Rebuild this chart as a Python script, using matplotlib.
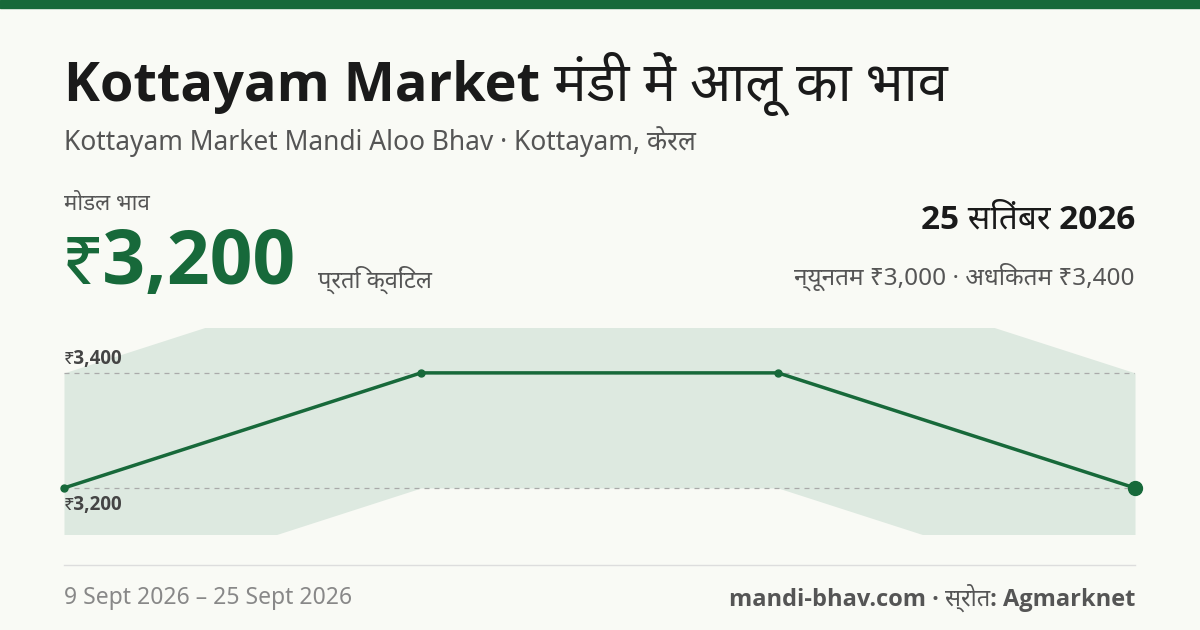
import matplotlib.pyplot as plt
from matplotlib import font_manager

names = {f.name for f in font_manager.fontManager.ttflist}
bold_ok = {f.name for f in font_manager.fontManager.ttflist if f.weight in (700, 'bold')}

def fam(first):
    return [f for f in first + ['Noto Sans Devanagari', 'DejaVu Sans'] if f in names or f == 'DejaVu Sans']

regular = fam(['Noto Sans'])
boldfam = fam([f for f in ['Noto Sans', 'Open Sans', 'Roboto', 'Lato'] if f in bold_ok][:1])
plt.rcParams['font.family'] = regular

dates = ['9 Sept', '', '', '25 Sept']
modal = [3200, 3400, 3400, 3200]
low = [3000, 3200, 3200, 3000]
high = [3400, 3600, 3600, 3400]

green = '#17693a'
bg = '#f9faf5'
W, H = 1200, 630

fig = plt.figure(figsize=(12, 6.3), dpi=100, facecolor=bg)
fig.add_artist(plt.Rectangle((0, 1 - 8 / H), 1, 8 / H, transform=fig.transFigure, color=green))

def px(x, y):
    return x / W, 1 - y / H

B = dict(fontweight='bold', family=boldfam)
fig.text(*px(64, 84), 'Kottayam Market मंडी में आलू का भाव', fontsize=39, color='#1a1a1a', va='center', **B)
fig.text(*px(64, 142), 'Kottayam Market Mandi Aloo Bhav · Kottayam, केरल', fontsize=19, color='#555555', va='center')
fig.text(*px(64, 204), 'मोडल भाव', fontsize=16, color='#555555', va='center')
fig.text(*px(62, 264), '₹3,200', fontsize=54, color=green, va='center', **B)
fig.text(*px(318, 280), 'प्रति क्विंटल', fontsize=17, color='#555555', va='center')
fig.text(*px(1135, 220), '25 सितंबर 2026', fontsize=24, color='#1a1a1a', va='center', ha='right', **B)
fig.text(*px(1135, 277), 'न्यूनतम ₹3,000 · अधिकतम ₹3,400', fontsize=17.5, color='#555555', va='center', ha='right')
fig.text(*px(64, 598), '9 Sept 2026 – 25 Sept 2026', fontsize=16.5, color='#888888', va='center')
fig.text(*px(1135, 598), 'mandi-bhav.com · स्रोत: Agmarknet', fontsize=17, color='#555555', va='center', ha='right', **B)
fig.add_artist(plt.Line2D([64 / W, 1135 / W], [1 - 565 / H] * 2, transform=fig.transFigure, color='#dddddd', lw=1))

ax = fig.add_axes([64 / W, 1 - 534 / H, (1135 - 64) / W, (534 - 328) / H])
ax.set_facecolor(bg)
x = list(range(len(modal)))
ax.fill_between(x, low, high, color='#dde9e0', lw=0)
for v in (3200, 3400):
    ax.axhline(v, color='#aaaaaa', ls=(0, (4, 4)), lw=0.9)
ax.plot(x, modal, color=green, lw=2.5, marker='o', ms=5, clip_on=False)
ax.plot(x[-1], modal[-1], 'o', color=green, ms=10, clip_on=False)
ax.set_xlim(0, len(modal) - 1)
ax.set_ylim(3120, 3478)
ax.axis('off')
ax.annotate('₹3,400', (0, 3400), xytext=(0, 3), textcoords='offset points', fontsize=13.5, color='#444444', va='bottom', ha='left', **B)
ax.annotate('₹3,200', (0, 3200), xytext=(0, -5), textcoords='offset points', fontsize=13.5, color='#444444', va='top', ha='left', **B)

fig.savefig('out.png', dpi=100, facecolor=bg)
